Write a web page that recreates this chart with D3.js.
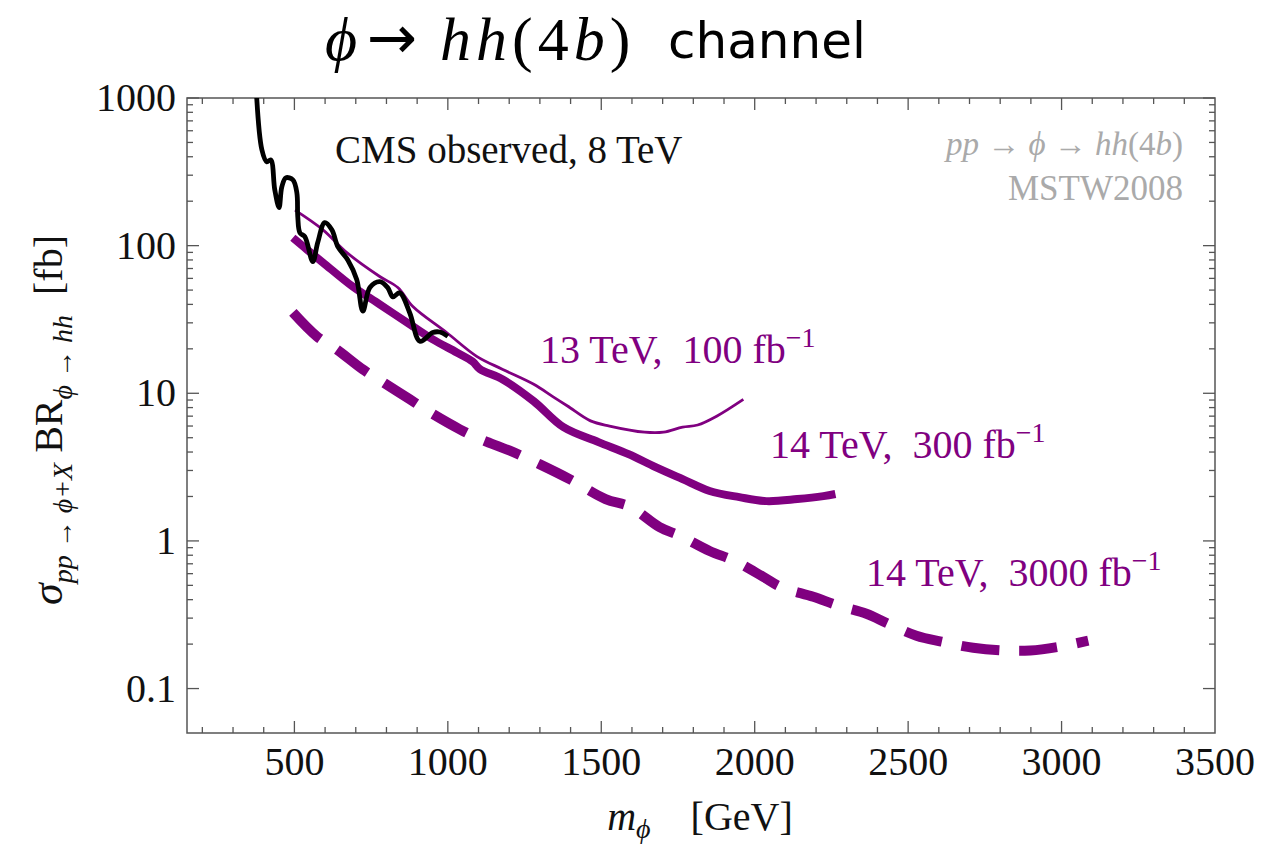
<!DOCTYPE html>
<html><head><meta charset="utf-8">
<script src="https://cdn.jsdelivr.net/npm/d3@7"></script>
<style>
body{margin:0;background:#fff;}
svg{display:block;}
</style></head>
<body>
<svg id="chart" width="1280" height="847"></svg>
<script>
// ---- data ----
const cmsMass = [372,394,410,423,436,450,459,472,495,508,511,518,534,560,576,599,622,642,674,703,723,746,778,804,821,843,876,909,951,974,1000];
const cmsXsec = [1600,446,370,381,239,181,250,288,279,228,157,122,115,78,105,143,128,98,80,59,36,52,57,52,45,48,35,22.5,25.8,26,24.3];

const lhc13Mass = [502,593,671,778,837,886,996,1094,1179,1280,1342,1390,1465,1527,1641,1703,1765,1814,1876,1963];
const lhc13Xsec = [174,128,89.7,61.8,52,38.7,25.8,17.8,14.5,11.5,9.5,8.2,6.5,6.0,5.45,5.45,5.9,6.1,7.0,9.1];

const lhc14Mass = [495,541,593,690,778,886,951,1029,1081,1104,1179,1280,1377,1491,1589,1677,1765,1853,1950,2038,2139,2224,2263];
const lhc14Xsec = [113,94,76.8,52.8,40,28.4,23.2,18.9,16.4,14.6,12.4,8.83,5.89,4.67,3.87,3.16,2.62,2.18,1.98,1.86,1.92,2.01,2.08];

const hlMass = [495,573,638,723,788,876,941,1039,1104,1200,1300,1400,1514,1595,1690,1758,1853,1934,2028,2084,2191,2273,2364,2435,2527,2608,2712,2816,2898,2992,3087];
const hlXsec = [35.3,24.3,19.8,14.5,11.9,9.1,7.45,5.7,4.9,4.1,3.3,2.6,1.92,1.70,1.24,1.08,0.855,0.733,0.571,0.489,0.418,0.364,0.321,0.275,0.228,0.208,0.189,0.181,0.181,0.192,0.211];

const xTickValues = [500,1000,1500,2000,2500,3000,3500];
const yTickValues = [0.1,1,10,100,1000];
const yTickLabels = ["0.1","1","10","100","1000"];

// ---- layout ----
const svg = d3.select("#chart");
const L = 187, R = 1215, T = 98, B = 733;
const x = d3.scaleLinear().domain([150, 3500]).range([L, R]);
const y = d3.scaleLog().domain([0.05, 1000]).range([B, T]);
const purple = "#800080";
const serif = "'Liberation Serif','Times New Roman',serif";

svg.append("defs").append("clipPath").attr("id","clip")
  .append("rect").attr("x",L).attr("y",T).attr("width",R-L).attr("height",B-T);

// frame
svg.append("rect").attr("x",L).attr("y",T).attr("width",R-L).attr("height",B-T)
  .attr("fill","none").attr("stroke","#555").attr("stroke-width",1.5);

// ticks
const xMinor = d3.range(200, 3500, 100);
const tickG = svg.append("g").attr("stroke","#555").attr("stroke-width",1.3);
xMinor.forEach(v=>{
  const major = v % 500 === 0;
  const len = major ? 12 : 6;
  tickG.append("line").attr("x1",x(v)).attr("x2",x(v)).attr("y1",B).attr("y2",B-len);
  tickG.append("line").attr("x1",x(v)).attr("x2",x(v)).attr("y1",T).attr("y2",T+len);
});
const yMinor = [];
[0.1,1,10,100].forEach(d=>{ for(let k=2;k<=9;k++) yMinor.push(d*k); });
yMinor.forEach(v=>{
  tickG.append("line").attr("x1",L).attr("x2",L+6).attr("y1",y(v)).attr("y2",y(v));
  tickG.append("line").attr("x1",R).attr("x2",R-6).attr("y1",y(v)).attr("y2",y(v));
});
yTickValues.forEach(v=>{
  tickG.append("line").attr("x1",L).attr("x2",L+12).attr("y1",y(v)).attr("y2",y(v));
  tickG.append("line").attr("x1",R).attr("x2",R-12).attr("y1",y(v)).attr("y2",y(v));
});

// tick labels
svg.append("g").selectAll("text").data(xTickValues).join("text")
  .attr("x",d=>x(d)).attr("y",775).attr("text-anchor","middle")
  .attr("font-family",serif).attr("font-size",40).attr("fill","#111")
  .text(d=>d);
svg.append("g").selectAll("text").data(yTickValues).join("text")
  .attr("x",176).attr("y",d=>y(d)+13).attr("text-anchor","end")
  .attr("font-family",serif).attr("font-size",40).attr("fill","#111")
  .text((d,i)=>yTickLabels[i]);

// curves
const plot = svg.append("g").attr("clip-path","url(#clip)");
const line = d3.line().x(d=>x(d[0])).y(d=>y(d[1])).curve(d3.curveCatmullRom.alpha(0.5));
const zip = (a,b)=>a.map((v,i)=>[v,b[i]]);

plot.append("path").datum(zip(hlMass,hlXsec)).attr("d",line)
  .attr("fill","none").attr("stroke",purple).attr("stroke-width",10)
  .attr("stroke-dasharray","38,20");
plot.append("path").datum(zip(lhc14Mass,lhc14Xsec)).attr("d",line)
  .attr("fill","none").attr("stroke",purple).attr("stroke-width",8).attr("stroke-linejoin","round");
plot.append("path").datum(zip(lhc13Mass,lhc13Xsec)).attr("d",line)
  .attr("fill","none").attr("stroke",purple).attr("stroke-width",2.8).attr("stroke-linejoin","round");
plot.append("path").datum(zip(cmsMass,cmsXsec)).attr("d",line)
  .attr("fill","none").attr("stroke","#000").attr("stroke-width",4.8).attr("stroke-linejoin","round");

// annotations
svg.append("text").attr("x",335).attr("y",163).attr("font-family",serif).attr("font-size",39)
  .attr("fill","#111").text("CMS observed, 8 TeV");

function lumiLabel(xp, yp, txt, lumi){
  const t = svg.append("text").attr("x",xp).attr("y",yp).attr("font-family",serif)
    .attr("font-size",40).attr("fill",purple);
  t.append("tspan").text(txt + ",\u2002" + lumi + " fb");
  t.append("tspan").attr("dy",-16).attr("font-size",28).text("\u22121");
}
lumiLabel(540, 363, "13 TeV", "100");
lumiLabel(770, 458, "14 TeV", "300");
lumiLabel(866, 586, "14 TeV", "3000");

// gray process label
const g1 = svg.append("text").attr("x",1183).attr("y",155).attr("text-anchor","end")
  .attr("font-family",serif).attr("font-size",33).attr("fill","#aaa");
g1.append("tspan").attr("font-style","italic").text("pp");
g1.append("tspan").text(" \u2192 ");
g1.append("tspan").attr("font-style","italic").text("\u03d5");
g1.append("tspan").text(" \u2192 ");
g1.append("tspan").attr("font-style","italic").text("hh");
g1.append("tspan").text("(4");
g1.append("tspan").attr("font-style","italic").text("b");
g1.append("tspan").text(")");
svg.append("text").attr("x",1183).attr("y",200).attr("text-anchor","end")
  .attr("font-family",serif).attr("font-size",35).attr("fill","#aaa").text("MSTW2008");

// title (pieces placed separately)
svg.append("text").attr("x",325).attr("y",60).attr("font-size",62).attr("font-family",serif)
  .attr("font-style","italic").attr("fill","#000").text("\u03d5");
svg.append("text").attr("x",367).attr("y",58).attr("font-size",60).attr("font-family","'DejaVu Sans',sans-serif")
  .attr("fill","#000").text("\u2192");
const th = svg.append("text").attr("x",440).attr("y",60).attr("font-size",62).attr("font-family",serif)
  .attr("letter-spacing",5).attr("fill","#000");
th.append("tspan").attr("font-style","italic").text("hh");
th.append("tspan").text("(4");
th.append("tspan").attr("font-style","italic").text("b");
th.append("tspan").attr("letter-spacing",0).text(")");
svg.append("text").attr("x",668).attr("y",58).attr("font-size",50).attr("fill","#000")
  .attr("font-family","'DejaVu Sans','Liberation Sans',sans-serif").text("channel");

// x axis title
const xt = svg.append("text").attr("x",700).attr("y",830).attr("text-anchor","middle")
  .attr("font-family",serif).attr("font-size",40).attr("fill","#111");
xt.append("tspan").attr("font-style","italic").text("m");
xt.append("tspan").attr("font-style","italic").attr("font-size",28).attr("dy",8).text("\u03d5");
xt.append("tspan").attr("dy",-8).text("\u2003[GeV]");

// y axis title
const yt = svg.append("text").attr("transform","translate(62,420) rotate(-90)")
  .attr("text-anchor","middle").attr("font-family",serif).attr("font-size",40).attr("fill","#111");
yt.append("tspan").attr("font-style","italic").attr("font-size",44).text("\u03c3");
yt.append("tspan").attr("font-style","italic").attr("font-size",28).attr("dy",10).text("pp \u2192 \u03d5+X");
yt.append("tspan").attr("dy",-10).text(" BR");
yt.append("tspan").attr("font-style","italic").attr("font-size",28).attr("dy",10).text("\u03d5 \u2192 hh");
yt.append("tspan").attr("dy",-10).text("\u2002[fb]");
</script>
</body></html>
